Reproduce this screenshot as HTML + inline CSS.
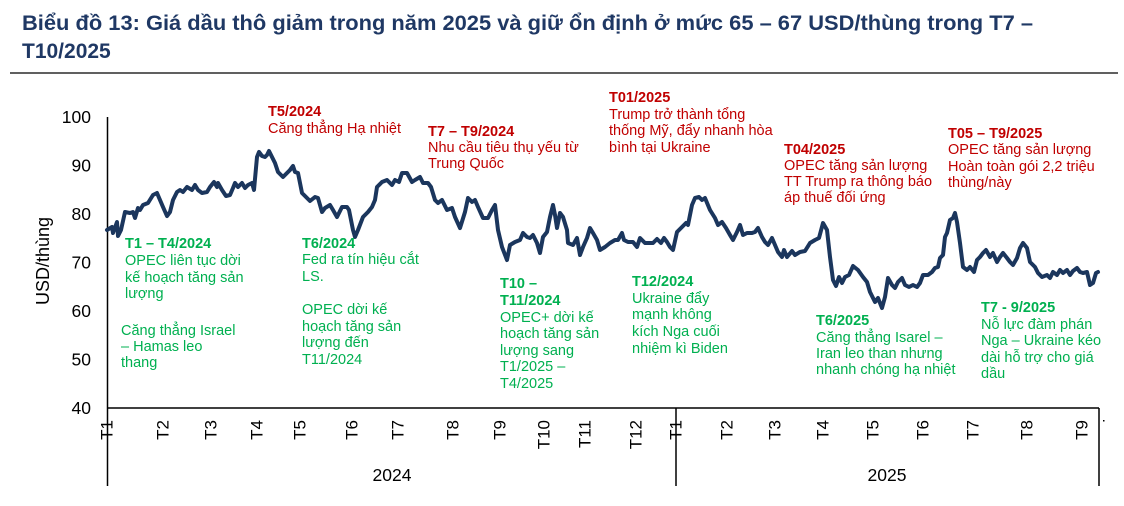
<!DOCTYPE html>
<html><head><meta charset="utf-8"><style>
html,body{margin:0;padding:0;background:#fff;}
svg{display:block;}
text{font-family:"Liberation Sans",Arial,sans-serif;}
</style></head><body>
<svg width="1124" height="506" viewBox="0 0 1124 506" xmlns="http://www.w3.org/2000/svg">
<rect width="1124" height="506" fill="#fff"/>
<!-- Title -->
<text x="22" y="30" font-size="21" font-weight="bold" fill="#1f3864" textLength="1011" lengthAdjust="spacingAndGlyphs">Biểu đồ 13: Giá dầu thô giảm trong năm 2025 và giữ ổn định ở mức 65 – 67 USD/thùng trong T7 –</text>
<text x="22" y="58" font-size="21" font-weight="bold" fill="#1f3864">T10/2025</text>
<line x1="10" y1="73" x2="1118" y2="73" stroke="#000" stroke-width="1.3"/>

<!-- Y axis labels -->
<g font-size="17.5" fill="#000" text-anchor="end">
<text x="91" y="123">100</text>
<text x="91" y="171.5">90</text>
<text x="91" y="220">80</text>
<text x="91" y="268.5">70</text>
<text x="91" y="317">60</text>
<text x="91" y="365.5">50</text>
<text x="91" y="414">40</text>
</g>
<text transform="translate(43,261) rotate(-90)" font-size="18" text-anchor="middle" dominant-baseline="central" fill="#000">USD/thùng</text>

<!-- Axes -->
<g stroke="#000" stroke-width="1.5" fill="none">
<line x1="107.5" y1="117" x2="107.5" y2="486"/>
<line x1="107" y1="408" x2="1099" y2="408"/>
<line x1="676" y1="408" x2="676" y2="486"/>
<line x1="1099" y1="408" x2="1099" y2="486"/>
</g>
<rect x="1103" y="420" width="1.5" height="1.5" fill="#000"/>

<!-- X labels -->
<g font-size="17" fill="#000" text-anchor="end" dominant-baseline="central">
<text transform="translate(107,420) rotate(-90)">T1</text>
<text transform="translate(163,420) rotate(-90)">T2</text>
<text transform="translate(211,420) rotate(-90)">T3</text>
<text transform="translate(257,420) rotate(-90)">T4</text>
<text transform="translate(300,420) rotate(-90)">T5</text>
<text transform="translate(352,420) rotate(-90)">T6</text>
<text transform="translate(398,420) rotate(-90)">T7</text>
<text transform="translate(453,420) rotate(-90)">T8</text>
<text transform="translate(500,420) rotate(-90)">T9</text>
<text transform="translate(544,420) rotate(-90)">T10</text>
<text transform="translate(585,420) rotate(-90)">T11</text>
<text transform="translate(636,420) rotate(-90)">T12</text>
<text transform="translate(676,420) rotate(-90)">T1</text>
<text transform="translate(727,420) rotate(-90)">T2</text>
<text transform="translate(775,420) rotate(-90)">T3</text>
<text transform="translate(823,420) rotate(-90)">T4</text>
<text transform="translate(873,420) rotate(-90)">T5</text>
<text transform="translate(923,420) rotate(-90)">T6</text>
<text transform="translate(973,420) rotate(-90)">T7</text>
<text transform="translate(1027,420) rotate(-90)">T8</text>
<text transform="translate(1082,420) rotate(-90)">T9</text>
</g>
<g font-size="17.5" fill="#000" text-anchor="middle">
<text x="392" y="481">2024</text>
<text x="887" y="481">2025</text>
</g>

<!-- Series -->
<polyline fill="none" stroke="#1b365d" stroke-width="4" stroke-linejoin="round" stroke-linecap="round" points="
107,230 112,227 113,233 117,222 118,236 121,230 125,212 130,213 133,212 135,218 138,208 140,210 143,205 148,203 153,195 157,193 160,200 163,207 167,216 170,212 173,200 177,192 180,190 183,192 187,187 192,190 195,185 198,190 202,193 207,192 210,187 214,182 217,187 218,183 222,190 226,196 230,195 233,188 235,183 238,187 242,183 245,188 248,185 252,183 254,190 257,157 259,152 262,156 265,157 267,155 269,151 272,157 275,163 278,172 283,177 287,173 290,170 293,166 295,172 298,173 302,193 307,198 310,201 315,197 318,198 322,212 325,208 330,205 333,210 337,217 342,207 347,207 349,210 353,230 355,237 358,230 363,217 368,212 372,207 375,200 377,187 382,182 387,180 392,185 395,180 399,182 402,173 407,173 412,182 415,180 420,177 423,183 428,183 431,187 435,200 438,203 442,200 447,210 452,208 455,217 460,228 465,212 468,198 472,202 475,200 478,207 483,218 488,218 492,210 495,205 498,230 502,247 507,260 510,245 515,242 520,240 523,233 527,237 530,238 533,235 537,243 540,253 543,237 547,232 550,217 553,205 555,215 557,228 560,213 563,217 567,230 568,243 573,245 577,238 580,255 583,247 587,238 590,228 593,233 597,240 600,250 605,247 610,243 615,240 618,240 622,233 624,240 628,242 633,242 637,247 640,238 645,243 650,243 653,243 657,239 661,243 664,238 667,242 670,247 673,250 677,232 682,227 686,223 688,225 692,205 695,198 699,197 702,200 705,198 710,210 715,218 718,225 722,222 726,228 730,235 733,240 737,232 740,225 743,235 747,233 752,233 755,232 758,228 762,237 765,242 768,245 772,238 775,245 778,252 782,257 784,250 787,257 792,251 795,255 800,252 805,251 810,243 815,240 819,238 823,223 827,230 830,257 833,280 836,286 839,277 842,283 845,277 849,275 853,266 858,270 863,277 867,282 870,292 875,302 878,298 882,308 885,297 888,278 892,285 895,288 898,282 902,278 905,285 909,287 913,285 917,287 920,283 923,275 928,275 932,272 935,268 938,267 940,258 943,255 945,237 947,233 950,220 953,218 955,213 957,222 960,243 963,267 967,270 970,267 974,272 977,260 980,257 983,253 986,250 990,257 993,253 997,262 1000,257 1003,253 1007,258 1010,262 1013,265 1017,258 1020,248 1023,243 1027,248 1030,262 1035,267 1038,273 1042,277 1047,275 1050,278 1053,272 1057,275 1060,270 1063,273 1067,270 1070,275 1073,271 1077,268 1080,272 1083,273 1087,272 1090,285 1093,283 1096,273 1098,272"/>

<!-- Red annotations -->
<g font-size="14.5" fill="#c00000">
<text x="268" y="116" font-weight="bold">T5/2024</text>
<text x="268" y="133">Căng thẳng Hạ nhiệt</text>

<text x="428" y="136" font-weight="bold">T7 – T9/2024</text>
<text x="428" y="152">Nhu cầu tiêu thụ yếu từ</text>
<text x="428" y="168">Trung Quốc</text>

<text x="609" y="102" font-weight="bold">T01/2025</text>
<text x="609" y="119">Trump trở thành tổng</text>
<text x="609" y="135">thống Mỹ, đẩy nhanh hòa</text>
<text x="609" y="152">bình tại Ukraine</text>

<text x="784" y="154" font-weight="bold">T04/2025</text>
<text x="784" y="170">OPEC tăng sản lượng</text>
<text x="784" y="186">TT Trump ra thông báo</text>
<text x="784" y="202">áp thuế đối ứng</text>

<text x="948" y="138" font-weight="bold">T05 – T9/2025</text>
<text x="948" y="154">OPEC tăng sản lượng</text>
<text x="948" y="171">Hoàn toàn gói 2,2 triệu</text>
<text x="948" y="187">thùng/này</text>
</g>

<!-- Green annotations -->
<g font-size="14.5" fill="#00b050">
<text x="125" y="248" font-weight="bold">T1 – T4/2024</text>
<text x="125" y="265">OPEC liên tục dời</text>
<text x="125" y="282">kế hoạch tăng sản</text>
<text x="125" y="298">lượng</text>
<text x="121" y="335">Căng thẳng Israel</text>
<text x="121" y="351">– Hamas leo</text>
<text x="121" y="367">thang</text>

<text x="302" y="248" font-weight="bold">T6/2024</text>
<text x="302" y="264">Fed ra tín hiệu cắt</text>
<text x="302" y="281">LS.</text>
<text x="302" y="314">OPEC dời kế</text>
<text x="302" y="331">hoạch tăng sản</text>
<text x="302" y="347">lượng đến</text>
<text x="302" y="364">T11/2024</text>

<text x="500" y="288" font-weight="bold">T10 –</text>
<text x="500" y="305" font-weight="bold">T11/2024</text>
<text x="500" y="322">OPEC+ dời kế</text>
<text x="500" y="338">hoạch tăng sản</text>
<text x="500" y="355">lượng sang</text>
<text x="500" y="371">T1/2025 –</text>
<text x="500" y="388">T4/2025</text>

<text x="632" y="286" font-weight="bold">T12/2024</text>
<text x="632" y="303">Ukraine đẩy</text>
<text x="632" y="319">mạnh không</text>
<text x="632" y="336">kích Nga cuối</text>
<text x="632" y="353">nhiệm kì Biden</text>

<text x="816" y="325" font-weight="bold">T6/2025</text>
<text x="816" y="342">Căng thẳng Isarel –</text>
<text x="816" y="358">Iran leo than nhưng</text>
<text x="816" y="374">nhanh chóng hạ nhiệt</text>

<text x="981" y="312" font-weight="bold">T7 - 9/2025</text>
<text x="981" y="329">Nỗ lực đàm phán</text>
<text x="981" y="345">Nga – Ukraine kéo</text>
<text x="981" y="362">dài hỗ trợ cho giá</text>
<text x="981" y="378">dầu</text>
</g>
</svg>
</body></html>
